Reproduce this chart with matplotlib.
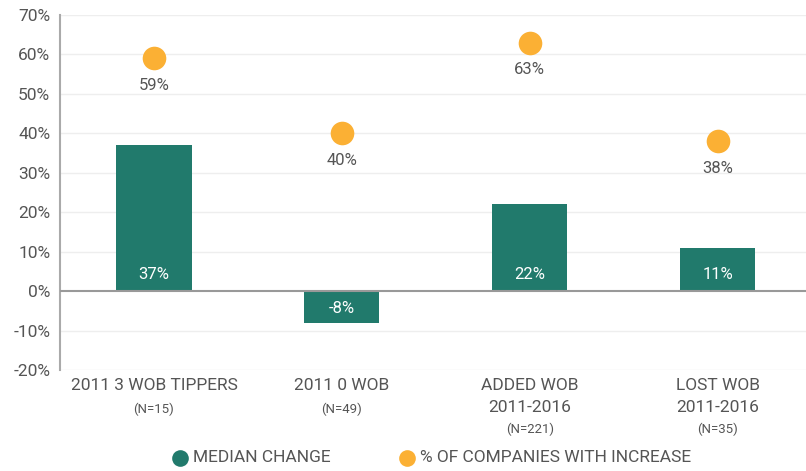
import matplotlib
matplotlib.use("Agg")
import matplotlib.pyplot as plt
from matplotlib.lines import Line2D

plt.rcParams['font.family'] = ['Roboto', 'DejaVu Sans']

cat_main = [["2011 3 WOB TIPPERS"], ["2011 0 WOB"], ["ADDED WOB", "2011-2016"], ["LOST WOB", "2011-2016"]]
cat_n = ["(N=15)", "(N=49)", "(N=221)", "(N=35)"]
median_change = [37, -8, 22, 11]
pct_increase = [59, 40, 63, 38]
median_labels = ["37%", "-8%", "22%", "11%"]
pct_labels = ["59%", "40%", "63%", "38%"]
yticks = [-20, -10, 0, 10, 20, 30, 40, 50, 60, 70]
legend_labels = ["MEDIAN CHANGE", "% OF COMPANIES WITH INCREASE"]

teal = "#217a6c"
orange = "#fbb034"
txt = "#555555"

W, H = 806, 471
fig = plt.figure(figsize=(W / 100, H / 100), dpi=100)
ax = fig.add_axes([60 / W, (H - 370) / H, (W - 60) / W, 355 / H])

x = list(range(len(cat_main)))
ax.set_xlim(-0.5, 3.47)
ax.set_ylim(-20, 70)

for t in yticks:
    if t != 0:
        ax.axhline(t, color="#eeeeee", lw=1, zorder=0)

ax.bar(x, median_change, width=0.4, color=teal, zorder=2)
ax.axhline(0, color="#999999", lw=1.5, zorder=3)

ax.plot(x, pct_increase, 'o', color=orange, markersize=17, zorder=4, markeredgewidth=0)

for xi, v, lab in zip(x, median_change, median_labels):
    yy = 4.3 if v >= 0 else -4.3
    ax.text(xi, yy, lab, ha="center", va="center", color="white", fontsize=12, zorder=5)

for xi, v, lab in zip(x, pct_increase, pct_labels):
    ax.text(xi, v - 6.8, lab, ha="center", va="center", color=txt, fontsize=12, zorder=5)

ax.set_yticks(yticks)
ax.set_yticklabels([f"{t}%" for t in yticks], color=txt, fontsize=12.5)
ax.tick_params(axis='y', length=0, pad=7)
ax.set_xticks([])

for s in ["top", "right", "bottom"]:
    ax.spines[s].set_visible(False)
ax.spines["left"].set_color("#aaaaaa")
ax.spines["left"].set_linewidth(1.5)

px = 0.72  # points per pixel at 100 dpi
for xi, lines, n in zip(x, cat_main, cat_n):
    for i, line in enumerate(lines):
        ax.annotate(line, xy=(xi, -20), xycoords="data", xytext=(0, -(16 + 21 * i) * px),
                    textcoords="offset points", ha="center", va="center", color=txt,
                    fontsize=12.5, annotation_clip=False)
    ny = 39 if len(lines) == 1 else 59
    ax.annotate(n, xy=(xi, -20), xycoords="data", xytext=(0, -ny * px), textcoords="offset points",
                ha="center", va="center", color=txt, fontsize=9.5, annotation_clip=False)

# legend drawn manually in figure pixel coordinates
leg_y = 1 - 458 / H
for cx, col, lab in zip([180, 407], [teal, orange], legend_labels):
    fig.add_artist(Line2D([cx / W], [leg_y], marker='o', ls='', color=col, markersize=12,
                          markeredgewidth=0, transform=fig.transFigure))
    fig.text((cx + 13) / W, leg_y, lab, ha="left", va="center", color=txt, fontsize=12.5)

fig.savefig("out.png", dpi=100)
